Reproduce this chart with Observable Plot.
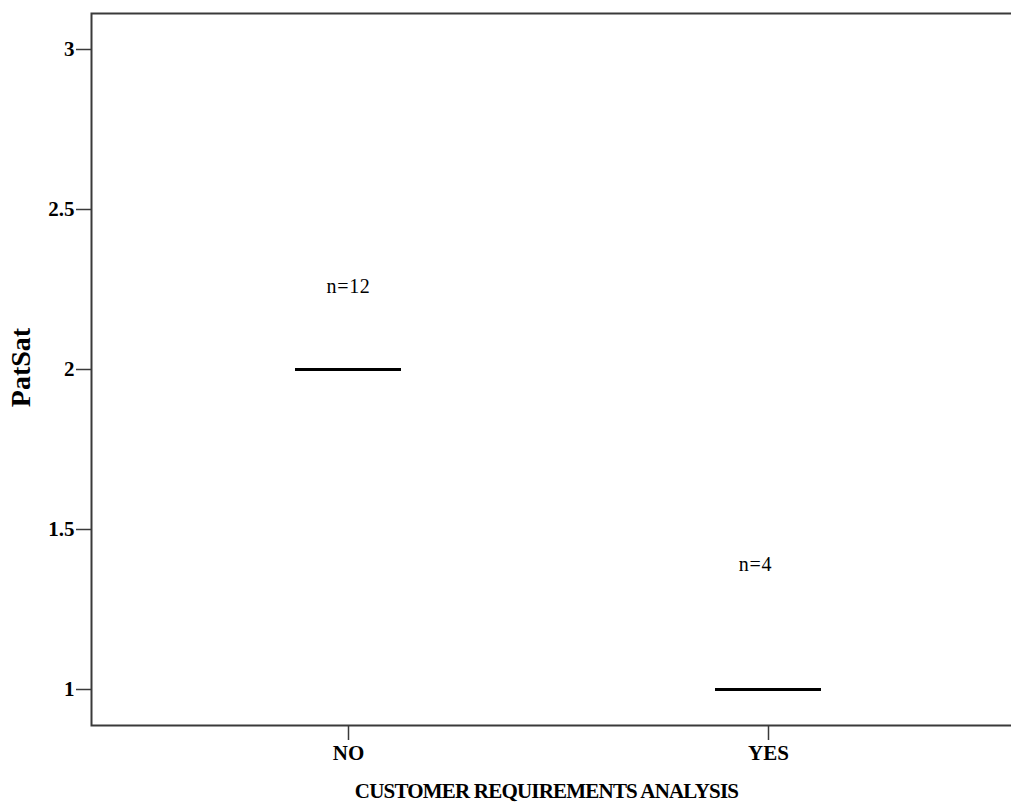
<!DOCTYPE html>
<html>
<head>
<meta charset="utf-8">
<script src="https://cdn.jsdelivr.net/npm/d3@7"></script>
<script src="https://cdn.jsdelivr.net/npm/@observablehq/plot@0.6"></script>
<style>
  html, body { margin: 0; padding: 0; background: #fff; overflow: hidden; }
  #chart svg { display: block; }
</style>
</head>
<body>
<div id="chart"></div>
<script>
// Groups of the "customer requirements analysis" factor
const groups = ["NO", "YES"];
// Median PatSat score per group (boxes collapse to a single line)
const medians = [2, 1];
// Group sizes
const counts = [12, 4];
// Height (in PatSat units) at which each count label sits
const countLabelAt = [2.26, 1.39];
// Y axis ticks
const yTicks = [1, 1.5, 2, 2.5, 3];

const xTitle = "CUSTOMER REQUIREMENTS ANALYSIS";
const yTitle = "PatSat";

const rows = groups.map((g, i) => ({
  group: g,
  median: medians[i],
  n: counts[i],
  labelAt: countLabelAt[i]
}));

const serif = "'Liberation Serif', 'Times New Roman', serif";
const axisColor = "#3a3a3a";

const W = 1011, H = 802;
const M = { top: 13, right: 0, bottom: 77, left: 91 };
const innerW = W - M.left - M.right;
const innerH = H - M.top - M.bottom;

const chart = Plot.plot({
  width: W,
  height: H,
  marginLeft: M.left,
  marginRight: M.right,
  marginTop: M.top,
  marginBottom: M.bottom,
  style: { fontFamily: serif, fontSize: "20px", color: "#000", background: "#fff" },
  x: {
    type: "band",
    domain: groups,
    paddingInner: 0.748,
    paddingOuter: 0.469,
    align: 0.517
  },
  y: { domain: [0.8875, 3.1125] },
  marks: [
    // Plot area border: top, bottom and left edges only (the right side is skipped)
    Plot.frame({
      stroke: axisColor,
      strokeWidth: 2,
      strokeDasharray: `${innerW} ${innerH} ${innerW + innerH}`
    }),
    Plot.axisY({
      ticks: yTicks,
      tickFormat: d => String(d),
      tickSize: 15,
      tickPadding: 2,
      strokeWidth: 1.5,
      stroke: axisColor,
      fill: "#000",
      fontWeight: "bold",
      fontSize: 21,
      label: null
    }),
    Plot.axisX({
      tickSize: 15,
      tickPadding: 5,
      strokeWidth: 1.5,
      stroke: axisColor,
      fill: "#000",
      fontWeight: "bold",
      fontSize: 21,
      label: null
    }),
    // Axis titles
    Plot.text([yTitle], {
      frameAnchor: "left",
      textAnchor: "middle",
      rotate: -90,
      dx: -70,
      dy: -2,
      fontSize: 28,
      fontWeight: "bold",
      fill: "#000"
    }),
    Plot.text([xTitle], {
      frameAnchor: "bottom",
      dy: 72,
      dx: -5,
      fontSize: 21,
      fontWeight: "bold",
      fill: "#000"
    }),
    // Median lines
    Plot.tickY(rows, { x: "group", y: "median", stroke: "#000", strokeWidth: 3 }),
    // Group size labels
    Plot.text(rows.filter(d => d.group === "NO"), {
      x: "group", y: "labelAt", text: d => `n=${d.n}`,
      fontSize: 20, fill: "#000"
    }),
    Plot.text(rows.filter(d => d.group === "YES"), {
      x: "group", y: "labelAt", text: d => `n=${d.n}`,
      dx: -13,
      fontSize: 20, fill: "#000"
    })
  ]
});

// Tighten the x title and space the count labels a little
const svg = d3.select(chart);
svg.selectAll("text")
  .filter(function () { return this.textContent === xTitle; })
  .attr("letter-spacing", "-0.8px");
svg.selectAll("text")
  .filter(function () { return /^n=/.test(this.textContent); })
  .attr("letter-spacing", "0.7px");

document.getElementById("chart").append(chart);
</script>
</body>
</html>
